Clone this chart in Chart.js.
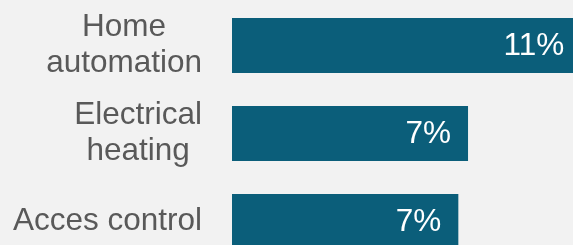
<!DOCTYPE html>
<html>
<head>
<meta charset="utf-8">
<script src="https://cdn.jsdelivr.net/npm/chart.js@4/dist/chart.umd.min.js"></script>
<style>
  html, body { margin: 0; padding: 0; background: #f2f2f2; overflow: hidden; width: 573px; height: 245px; }
  #wrap { position: absolute; left: 0; top: 0; width: 620px; height: 266px; }
</style>
</head>
<body>
<div id="wrap"><canvas id="c" width="620" height="266"></canvas></div>
<script>
const categories = [["Home", "automation"], ["Electrical", "heating"], ["Acces control"]];
const values = [10.8, 7.3, 7.0];
const valueLabels = ["11%", "7%", "7%"];

const FONT = '31.5px "Liberation Sans", Arial, sans-serif';
const BAR_COLOR = '#0b5e7a';
const TEXT_COLOR = '#595959';

const labelPlugin = {
  id: 'labels',
  afterDraw(chart) {
    const ctx = chart.ctx;
    const yScale = chart.scales.y;
    ctx.save();
    ctx.font = FONT;
    ctx.fillStyle = TEXT_COLOR;
    ctx.textBaseline = 'middle';
    ctx.textAlign = 'center';
    const rightEdge = 202;
    const lh = 36;
    categories.forEach((lines, i) => {
      const arr = Array.isArray(lines) ? lines : [lines];
      const w = Math.max(...arr.map(l => ctx.measureText(l).width));
      const cx = rightEdge - w / 2;
      const cy = yScale.getPixelForValue(i);
      const start = cy - (arr.length - 1) * lh / 2;
      arr.forEach((l, j) => ctx.fillText(l, cx, start + j * lh));
    });
    // value labels inside bars
    const meta = chart.getDatasetMeta(0);
    ctx.fillStyle = '#ffffff';
    ctx.textAlign = 'right';
    meta.data.forEach((bar, i) => {
      ctx.fillText(valueLabels[i], bar.x - 17, bar.y + 1);
    });
    ctx.restore();
  }
};

new Chart(document.getElementById('c'), {
  type: 'bar',
  data: {
    labels: categories,
    datasets: [{
      data: values,
      backgroundColor: BAR_COLOR,
      borderWidth: 0,
      categoryPercentage: 1,
      barPercentage: 0.625
    }]
  },
  options: {
    indexAxis: 'y',
    responsive: false,
    animation: false,
    layout: { padding: { top: 1.5, bottom: 0.5, left: 0, right: 0 } },
    plugins: { legend: { display: false }, tooltip: { enabled: false } },
    scales: {
      x: { display: false, min: 0, max: 12 },
      y: {
        display: true,
        grid: { display: false },
        border: { display: false },
        ticks: { display: false },
        afterFit(scale) { scale.width = 232; }
      }
    }
  },
  plugins: [labelPlugin]
});
</script>
</body>
</html>
